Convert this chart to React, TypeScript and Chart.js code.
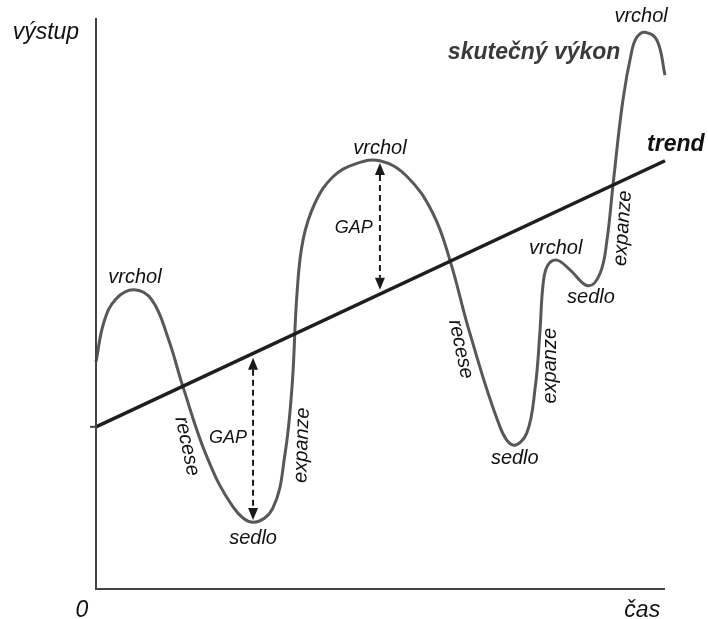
import React, { useEffect, useRef } from "react";
import { Chart, registerables } from "chart.js";

Chart.register(...registerables);

const cycleX = [0, 1.41, 3.51, 6.68, 9.84, 12.65, 15.29, 19.51, 24.08, 27.59, 31.1, 33.2, 34.45, 35.33, 36.38, 38.49, 41.65, 45.5, 49.9, 54.7, 59.2, 62.2, 65.7, 71.0, 73.3, 75.7, 77.2, 78.0, 78.6, 79.4, 81.0, 83.3, 86.5, 88.6, 89.8, 90.9, 92.6, 94.2, 95.1, 96.5, 98.6, 100];
const cycleY = [39.8, 46.8, 50.8, 52.4, 50.6, 44.0, 35.4, 23.1, 14.4, 11.7, 14.2, 23.5, 35.4, 51.8, 61.1, 67.6, 72.2, 74.4, 75.0, 72.2, 65.8, 57.6, 44.8, 28.4, 25.2, 27.3, 35.4, 44.8, 53.6, 56.7, 57.6, 55.9, 53.1, 55.3, 61.1, 71.1, 85.6, 94.4, 96.7, 97.5, 96.1, 90.0];

// Trend line
const trendX = [0, 100];
const trendY = [28.4, 75.0];

// GAP arrows (x, from, to)
const gapX = [27.6, 49.9];
const gapTop = [40.5, 74.6];
const gapBottom = [12.1, 52.4];

// Text annotations
const labelTexts = ["vrchol", "vrchol", "vrchol", "vrchol", "sedlo", "sedlo", "sedlo", "GAP", "GAP", "recese", "recese", "expanze", "expanze", "expanze", "skutečný výkon", "trend", "výstup", "0", "čas"];
const labelX = [6.85, 49.9, 80.8, 95.8, 27.6, 73.6, 87.0, 23.2, 45.3, 16.0, 64.1, 36.2, 79.8, 92.6, 77.0, 101.9, -8.8, -2.5, 96.0];
const labelY = [54.6, 77.2, 59.7, 100.2, 8.9, 22.9, 51.0, 26.4, 63.2, 25.0, 42.0, 25.2, 39.1, 63.2, 94.0, 77.8, 97.4, -3.7, -3.7];
const labelAngle = [0, 0, 0, 0, 0, 0, 0, 0, 0, 78, 78, -88, -90, -86, 0, 0, 0, 0, 0];
const labelStyle = ["n", "n", "n", "n", "n", "n", "n", "g", "g", "n", "n", "n", "n", "n", "b", "t", "a", "a", "a"];

const FONT = '"Liberation Sans", Arial, sans-serif';

const overlayPlugin = {
  id: "overlay",
  afterDatasetsDraw(chart: any) {
    const { ctx, chartArea, scales } = chart;
    const xs = scales.x;
    const ys = scales.y;
    ctx.save();
    // axes
    ctx.strokeStyle = "#444";
    ctx.lineWidth = 2;
    ctx.beginPath();
    ctx.moveTo(chartArea.left, chartArea.top);
    ctx.lineTo(chartArea.left, chartArea.bottom);
    ctx.lineTo(chartArea.right, chartArea.bottom);
    ctx.stroke();
    // tick at trend start
    const ty = ys.getPixelForValue(trendY[0]);
    ctx.beginPath();
    ctx.moveTo(chartArea.left - 6, ty);
    ctx.lineTo(chartArea.left, ty);
    ctx.stroke();

    // GAP arrows
    ctx.strokeStyle = "#1a1a1a";
    ctx.fillStyle = "#1a1a1a";
    ctx.lineWidth = 2;
    for (let i = 0; i < gapX.length; i++) {
      const px = xs.getPixelForValue(gapX[i]);
      const y1 = ys.getPixelForValue(gapTop[i]);
      const y2 = ys.getPixelForValue(gapBottom[i]);
      const head = 12;
      ctx.setLineDash([6, 4]);
      ctx.beginPath();
      ctx.moveTo(px, y1 + head);
      ctx.lineTo(px, y2 - head);
      ctx.stroke();
      ctx.setLineDash([]);
      ctx.beginPath();
      ctx.moveTo(px, y1);
      ctx.lineTo(px - 5, y1 + head);
      ctx.lineTo(px + 5, y1 + head);
      ctx.closePath();
      ctx.fill();
      ctx.beginPath();
      ctx.moveTo(px, y2);
      ctx.lineTo(px - 5, y2 - head);
      ctx.lineTo(px + 5, y2 - head);
      ctx.closePath();
      ctx.fill();
    }

    // labels
    ctx.textAlign = "center";
    ctx.textBaseline = "middle";
    for (let i = 0; i < labelTexts.length; i++) {
      const st = labelStyle[i];
      if (st === "b") {
        ctx.font = `italic bold 23px ${FONT}`;
        ctx.fillStyle = "#3a3a3a";
      } else if (st === "t") {
        ctx.font = `italic bold 23px ${FONT}`;
        ctx.fillStyle = "#111";
      } else if (st === "a") {
        ctx.font = `italic 23px ${FONT}`;
        ctx.fillStyle = "#111";
      } else if (st === "g") {
        ctx.font = `italic 18px ${FONT}`;
        ctx.fillStyle = "#111";
      } else {
        ctx.font = `italic 20px ${FONT}`;
        ctx.fillStyle = "#111";
      }
      const px = xs.getPixelForValue(labelX[i]);
      const py = ys.getPixelForValue(labelY[i]);
      ctx.save();
      ctx.translate(px, py);
      ctx.rotate((labelAngle[i] * Math.PI) / 180);
      ctx.fillText(labelTexts[i], 0, 0);
      ctx.restore();
    }
    ctx.restore();
  },
};

export default function App() {
  const canvasRef = useRef<HTMLCanvasElement | null>(null);

  useEffect(() => {
    document.body.style.margin = "0";
    const canvas = canvasRef.current;
    if (!canvas) return;
    const chart = new Chart(canvas, {
      type: "scatter",
      data: {
        datasets: [
          {
            label: "trend",
            data: trendX.map((x, i) => ({ x, y: trendY[i] })),
            showLine: true,
            borderColor: "#1e1e1e",
            borderWidth: 3.5,
            pointRadius: 0,
            clip: false as any,
          },
          {
            label: "skutečný výkon",
            data: cycleX.map((x, i) => ({ x, y: cycleY[i] })),
            showLine: true,
            borderColor: "#585858",
            borderWidth: 3,
            pointRadius: 0,
            tension: 0.4,
            clip: false as any,
          },
        ],
      },
      options: {
        responsive: false,
        animation: false,
        events: [],
        layout: { padding: { left: 96, right: 43, top: 18, bottom: 30 } },
        plugins: {
          legend: { display: false },
          tooltip: { enabled: false },
        },
        scales: {
          x: { type: "linear", min: 0, max: 100, display: false },
          y: { type: "linear", min: 0, max: 100, display: false },
        },
      },
      plugins: [overlayPlugin],
    });
    return () => chart.destroy();
  }, []);

  return (
    <div style={{ width: 708, height: 619, background: "#fff" }}>
      <canvas ref={canvasRef} width={708} height={619} style={{ display: "block" }} />
    </div>
  );
}
